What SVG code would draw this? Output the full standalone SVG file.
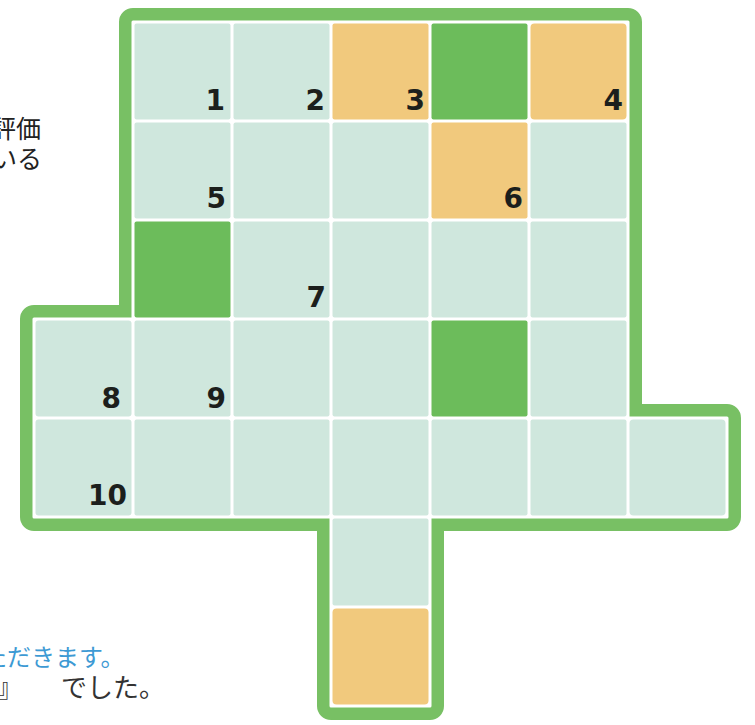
<svg xmlns="http://www.w3.org/2000/svg" width="755" height="725" viewBox="0 0 755 725">
<style>
.c{fill:#cfe7dd}
.o{fill:#f1c97d}
.g{fill:#6cbc5b}
.n{font-family:"DejaVu Sans","Liberation Sans",sans-serif;font-weight:bold;font-size:28px;fill:#1c1f1c;text-anchor:end}
.jp{font-family:"Noto Sans CJK JP","Noto Sans",sans-serif}
</style>
<rect width="755" height="725" fill="#ffffff"/>
<g id="frame">
<path d="M133,22 H628 V418 H727 V517 H430 V706 H331 V517 H34 V319 H133 Z" fill="#78c064" stroke="#78c064" stroke-width="28" stroke-linejoin="round"/>
<path d="M133,22 H628 V418 H727 V517 H430 V706 H331 V517 H34 V319 H133 Z" fill="#ffffff" stroke="#ffffff" stroke-width="3" stroke-linejoin="round"/>
</g>
<g id="cells">
<rect class="c" x="134.5" y="23.5" width="96" height="96" rx="2"/>
<rect class="c" x="233.5" y="23.5" width="96" height="96" rx="2"/>
<rect class="o" x="332.5" y="23.5" width="96" height="96" rx="2"/>
<rect class="g" x="431.5" y="23.5" width="96" height="96" rx="2"/>
<rect class="o" x="530.5" y="23.5" width="96" height="96" rx="4"/>
<rect class="c" x="134.5" y="122.5" width="96" height="96" rx="2"/>
<rect class="c" x="233.5" y="122.5" width="96" height="96" rx="2"/>
<rect class="c" x="332.5" y="122.5" width="96" height="96" rx="2"/>
<rect class="o" x="431.5" y="122.5" width="96" height="96" rx="2"/>
<rect class="c" x="530.5" y="122.5" width="96" height="96" rx="2"/>
<rect class="g" x="134.5" y="221.5" width="96" height="96" rx="2"/>
<rect class="c" x="233.5" y="221.5" width="96" height="96" rx="2"/>
<rect class="c" x="332.5" y="221.5" width="96" height="96" rx="2"/>
<rect class="c" x="431.5" y="221.5" width="96" height="96" rx="2"/>
<rect class="c" x="530.5" y="221.5" width="96" height="96" rx="2"/>
<rect class="c" x="35.5" y="320.5" width="96" height="96" rx="3"/>
<rect class="c" x="134.5" y="320.5" width="96" height="96" rx="2"/>
<rect class="c" x="233.5" y="320.5" width="96" height="96" rx="2"/>
<rect class="c" x="332.5" y="320.5" width="96" height="96" rx="2"/>
<rect class="g" x="431.5" y="320.5" width="96" height="96" rx="2"/>
<rect class="c" x="530.5" y="320.5" width="96" height="96" rx="2"/>
<rect class="c" x="35.5" y="419.5" width="96" height="96" rx="3"/>
<rect class="c" x="134.5" y="419.5" width="96" height="96" rx="2"/>
<rect class="c" x="233.5" y="419.5" width="96" height="96" rx="2"/>
<rect class="c" x="332.5" y="419.5" width="96" height="96" rx="2"/>
<rect class="c" x="431.5" y="419.5" width="96" height="96" rx="2"/>
<rect class="c" x="530.5" y="419.5" width="96" height="96" rx="2"/>
<rect class="c" x="629.5" y="419.5" width="96" height="96" rx="4"/>
<rect class="c" x="332.5" y="518.5" width="96" height="87" rx="2"/>
<rect class="o" x="332.5" y="608.5" width="96" height="96" rx="4"/>
</g>
<g id="numbers">
<text class="n" x="225" y="110">1</text>
<text class="n" x="325" y="110">2</text>
<text class="n" x="425" y="110">3</text>
<text class="n" x="623" y="110">4</text>
<text class="n" x="226" y="208">5</text>
<text class="n" x="523" y="208">6</text>
<text class="n" x="326" y="307">7</text>
<text class="n" x="121" y="408">8</text>
<text class="n" x="226" y="408">9</text>
<text class="n" x="127" y="505">10</text>
</g>
<g id="connectors"/>
<g id="texts">
<text class="jp" x="-9" y="138" font-size="25" fill="#222222">評価</text>
<text class="jp" x="-8" y="168" font-size="25" fill="#222222">いる</text>
<text class="jp" x="-17" y="666" font-size="24" fill="#3d9ad4">ただきます。</text>
<text class="jp" x="-3" y="697" font-size="26" fill="#333333">』</text>
<text class="jp" x="61" y="697" font-size="26" fill="#333333">でした。</text>
</g>
</svg>
